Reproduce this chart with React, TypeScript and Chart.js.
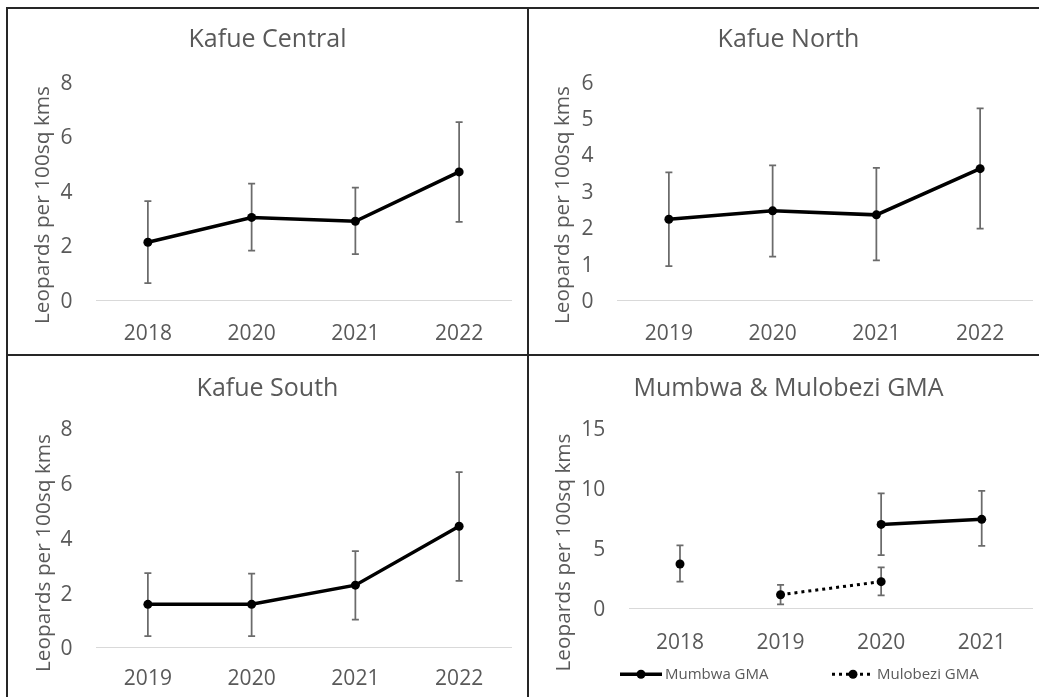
import React, { useEffect, useRef } from "react";
import { Chart, registerables } from "chart.js";

Chart.register(...registerables);

const FONT = "'Open Sans', sans-serif";
const TEXT = "#595959";
const AXIS_TITLE = "Leopards per 100sq kms";

// ---- Kafue Central ----
const centralYears = ["2018", "2020", "2021", "2022"];
const centralMean = [2.12, 3.03, 2.89, 4.7];
const centralLow = [0.62, 1.81, 1.68, 2.87];
const centralHigh = [3.63, 4.27, 4.12, 6.53];

// ---- Kafue North ----
const northYears = ["2019", "2020", "2021", "2022"];
const northMean = [2.22, 2.45, 2.34, 3.61];
const northLow = [0.93, 1.19, 1.09, 1.96];
const northHigh = [3.51, 3.7, 3.63, 5.27];

// ---- Kafue South ----
const southYears = ["2019", "2020", "2021", "2022"];
const southMean = [1.57, 1.57, 2.27, 4.42];
const southLow = [0.41, 0.41, 1.01, 2.43];
const southHigh = [2.71, 2.69, 3.51, 6.4];

// ---- Mumbwa & Mulobezi GMA ----
const gmaYears = ["2018", "2019", "2020", "2021"];
const mumbwaMean = [3.67, null, 6.98, 7.4];
const mumbwaLow = [2.2, null, 4.42, 5.18];
const mumbwaHigh = [5.23, null, 9.57, 9.77];
const mulobeziMean = [null, 1.11, 2.2, null];
const mulobeziLow = [null, 0.31, 1.06, null];
const mulobeziHigh = [null, 1.92, 3.4, null];

const errorBarPlugin = {
  id: "errorBars",
  beforeDatasetsDraw(chart: any) {
    const ctx = chart.ctx;
    const xs = chart.scales.x;
    const ys = chart.scales.y;
    ctx.save();
    ctx.strokeStyle = "#6b6b6b";
    ctx.lineWidth = 1.75;
    chart.data.datasets.forEach((ds: any) => {
      const lo = ds.errLow || [];
      const hi = ds.errHigh || [];
      for (let i = 0; i < lo.length; i++) {
        if (lo[i] == null || hi[i] == null) continue;
        const px = xs.getPixelForValue(i);
        const yl = ys.getPixelForValue(lo[i]);
        const yh = ys.getPixelForValue(hi[i]);
        ctx.beginPath();
        ctx.moveTo(px, yl);
        ctx.lineTo(px, yh);
        ctx.moveTo(px - 3.5, yl);
        ctx.lineTo(px + 3.5, yl);
        ctx.moveTo(px - 3.5, yh);
        ctx.lineTo(px + 3.5, yh);
        ctx.stroke();
      }
    });
    ctx.restore();
  },
};

const textPlugin = {
  id: "panelText",
  afterDraw(chart: any, _args: any, opts: any) {
    if (!opts) return;
    const ctx = chart.ctx;
    ctx.save();
    ctx.fillStyle = TEXT;
    ctx.textAlign = "center";
    ctx.textBaseline = "middle";
    if (opts.title) {
      ctx.font = `25px ${FONT}`;
      ctx.fillText(opts.title, opts.titleX, opts.titleY);
    }
    if (opts.yTitle) {
      ctx.translate(opts.yTitleX, opts.yTitleY);
      ctx.rotate(-Math.PI / 2);
      ctx.font = `20.8px ${FONT}`;
      ctx.fillText(opts.yTitle, 0, 0);
    }
    ctx.restore();
  },
};

const lineLegendPlugin = {
  id: "lineLegend",
  afterDraw(chart: any, _args: any, opts: any) {
    if (!opts || !opts.items) return;
    const ctx = chart.ctx;
    ctx.save();
    opts.items.forEach((it: any, idx: number) => {
      const ds = chart.data.datasets[idx];
      const y = opts.y;
      ctx.strokeStyle = ds.borderColor;
      ctx.lineWidth = ds.borderWidth;
      ctx.setLineDash(ds.borderDash || []);
      ctx.beginPath();
      ctx.moveTo(it.x, y);
      ctx.lineTo(it.x + 42, y);
      ctx.stroke();
      ctx.setLineDash([]);
      ctx.fillStyle = ds.pointBackgroundColor;
      ctx.beginPath();
      ctx.arc(it.x + 21, y, 4.5, 0, Math.PI * 2);
      ctx.fill();
      ctx.font = `15px ${FONT}`;
      ctx.fillStyle = TEXT;
      ctx.textAlign = "left";
      ctx.textBaseline = "middle";
      ctx.fillText(ds.label, it.x + 45, y);
    });
    ctx.restore();
  },
};

type PanelCfg = {
  left: number;
  top: number;
  width: number;
  height: number;
  title: string;
  titleY: number;
  chartTop: number;
  yWidth: number;
  xHeight: number;
  padBottom: number;
  yMax: number;
  yStep: number;
  yTickPad: number;
  xTickPad: number;
  yTitleX: number;
  yTitleY: number;
  labels: string[];
  datasets: any[];
  legend?: any;
};

function makeDataset(label: string, mean: any[], low: any[], high: any[], dashed = false) {
  return {
    label,
    data: mean,
    errLow: low,
    errHigh: high,
    borderColor: "#000000",
    backgroundColor: "#000000",
    borderWidth: dashed ? 3 : 3.5,
    borderDash: dashed ? [3, 4] : [],
    pointRadius: 4.5,
    pointHoverRadius: 4.5,
    pointBackgroundColor: "#000000",
    pointBorderColor: "#000000",
    pointBorderWidth: 0,
    tension: 0,
    fill: false,
    spanGaps: false,
  };
}

const panels: PanelCfg[] = [
  {
    left: 8, top: 9, width: 519, height: 345,
    title: "Kafue Central", titleY: 31.3, chartTop: 73,
    yWidth: 88, xHeight: 54, padBottom: 0,
    yMax: 8, yStep: 2, yTickPad: 23.5, xTickPad: 21.5,
    yTitleX: 35, yTitleY: 196,
    labels: centralYears,
    datasets: [makeDataset("Kafue Central", centralMean, centralLow, centralHigh)],
  },
  {
    left: 529, top: 9, width: 519, height: 345,
    title: "Kafue North", titleY: 31.3, chartTop: 72.7,
    yWidth: 88, xHeight: 54, padBottom: 0,
    yMax: 6, yStep: 1, yTickPad: 23.5, xTickPad: 21.5,
    yTitleX: 34, yTitleY: 196,
    labels: northYears,
    datasets: [makeDataset("Kafue North", northMean, northLow, northHigh)],
  },
  {
    left: 8, top: 356, width: 519, height: 341,
    title: "Kafue South", titleY: 32.7, chartTop: 72.3,
    yWidth: 88, xHeight: 49.7, padBottom: 0,
    yMax: 8, yStep: 2, yTickPad: 23.5, xTickPad: 19.5,
    yTitleX: 36, yTitleY: 197,
    labels: southYears,
    datasets: [makeDataset("Kafue South", southMean, southLow, southHigh)],
  },
  {
    left: 529, top: 356, width: 519, height: 341,
    title: "Mumbwa & Mulobezi GMA", titleY: 32.7, chartTop: 72.3,
    yWidth: 100.7, xHeight: 49, padBottom: 40,
    yMax: 15, yStep: 5, yTickPad: 24.5, xTickPad: 22,
    yTitleX: 35, yTitleY: 196.5,
    labels: gmaYears,
    datasets: [
      makeDataset("Mumbwa GMA", mumbwaMean, mumbwaLow, mumbwaHigh),
      makeDataset("Mulobezi GMA", mulobeziMean, mulobeziLow, mulobeziHigh, true),
    ],
    legend: { y: 318.3, items: [{ x: 91 }, { x: 303 }] },
  },
];

function Panel({ cfg }: { cfg: PanelCfg }) {
  const ref = useRef<HTMLCanvasElement>(null);
  useEffect(() => {
    const chart = new Chart(ref.current as HTMLCanvasElement, {
      type: "line",
      data: { labels: cfg.labels, datasets: cfg.datasets },
      plugins: [errorBarPlugin, textPlugin, lineLegendPlugin],
      options: {
        responsive: false,
        animation: false,
        devicePixelRatio: 1,
        events: [],
        layout: {
          padding: { left: 0, top: cfg.chartTop, right: cfg.width - 503, bottom: cfg.padBottom },
        },
        plugins: {
          legend: { display: false },
          tooltip: { enabled: false },
          title: { display: false },
          panelText: {
            title: cfg.title,
            titleX: cfg.width / 2,
            titleY: cfg.titleY,
            yTitle: AXIS_TITLE,
            yTitleX: cfg.yTitleX,
            yTitleY: cfg.yTitleY,
          },
          lineLegend: cfg.legend || {},
        } as any,
        scales: {
          x: {
            type: "category",
            offset: true,
            grid: { display: false, drawTicks: false, tickLength: 0 },
            border: { display: true, color: "#d9d9d9", width: 1 },
            ticks: {
              color: TEXT,
              font: { family: FONT, size: 21 },
              padding: cfg.xTickPad,
              maxRotation: 0,
              autoSkip: false,
            },
            afterFit: (s: any) => {
              s.height = cfg.xHeight;
            },
          },
          y: {
            min: 0,
            max: cfg.yMax,
            grid: { display: false, drawTicks: false, tickLength: 0 },
            border: { display: false },
            ticks: {
              stepSize: cfg.yStep,
              color: TEXT,
              font: { family: FONT, size: 21 },
              padding: cfg.yTickPad,
              labelOffset: 2,
            },
            afterFit: (s: any) => {
              s.width = cfg.yWidth;
            },
          },
        },
      },
    });
    return () => chart.destroy();
  }, []);
  return (
    <div style={{ position: "absolute", left: cfg.left, top: cfg.top, width: cfg.width, height: cfg.height }}>
      <canvas ref={ref} width={cfg.width} height={cfg.height} style={{ display: "block" }} />
    </div>
  );
}

const lineColor = "#262626";

export default function App() {
  return (
    <div
      style={{
        position: "fixed",
        left: 0,
        top: 0,
        width: 1039,
        height: 697,
        overflow: "hidden",
        background: "#ffffff",
      }}
    >
      {panels.map((p, i) => (
        <Panel key={i} cfg={p} />
      ))}
      <div style={{ position: "absolute", left: 6, top: 7, width: 1033, height: 2, background: lineColor }} />
      <div style={{ position: "absolute", left: 6, top: 7, width: 2, height: 690, background: lineColor }} />
      <div style={{ position: "absolute", left: 527, top: 7, width: 2, height: 690, background: lineColor }} />
      <div style={{ position: "absolute", left: 6, top: 354, width: 1033, height: 2, background: lineColor }} />
    </div>
  );
}
